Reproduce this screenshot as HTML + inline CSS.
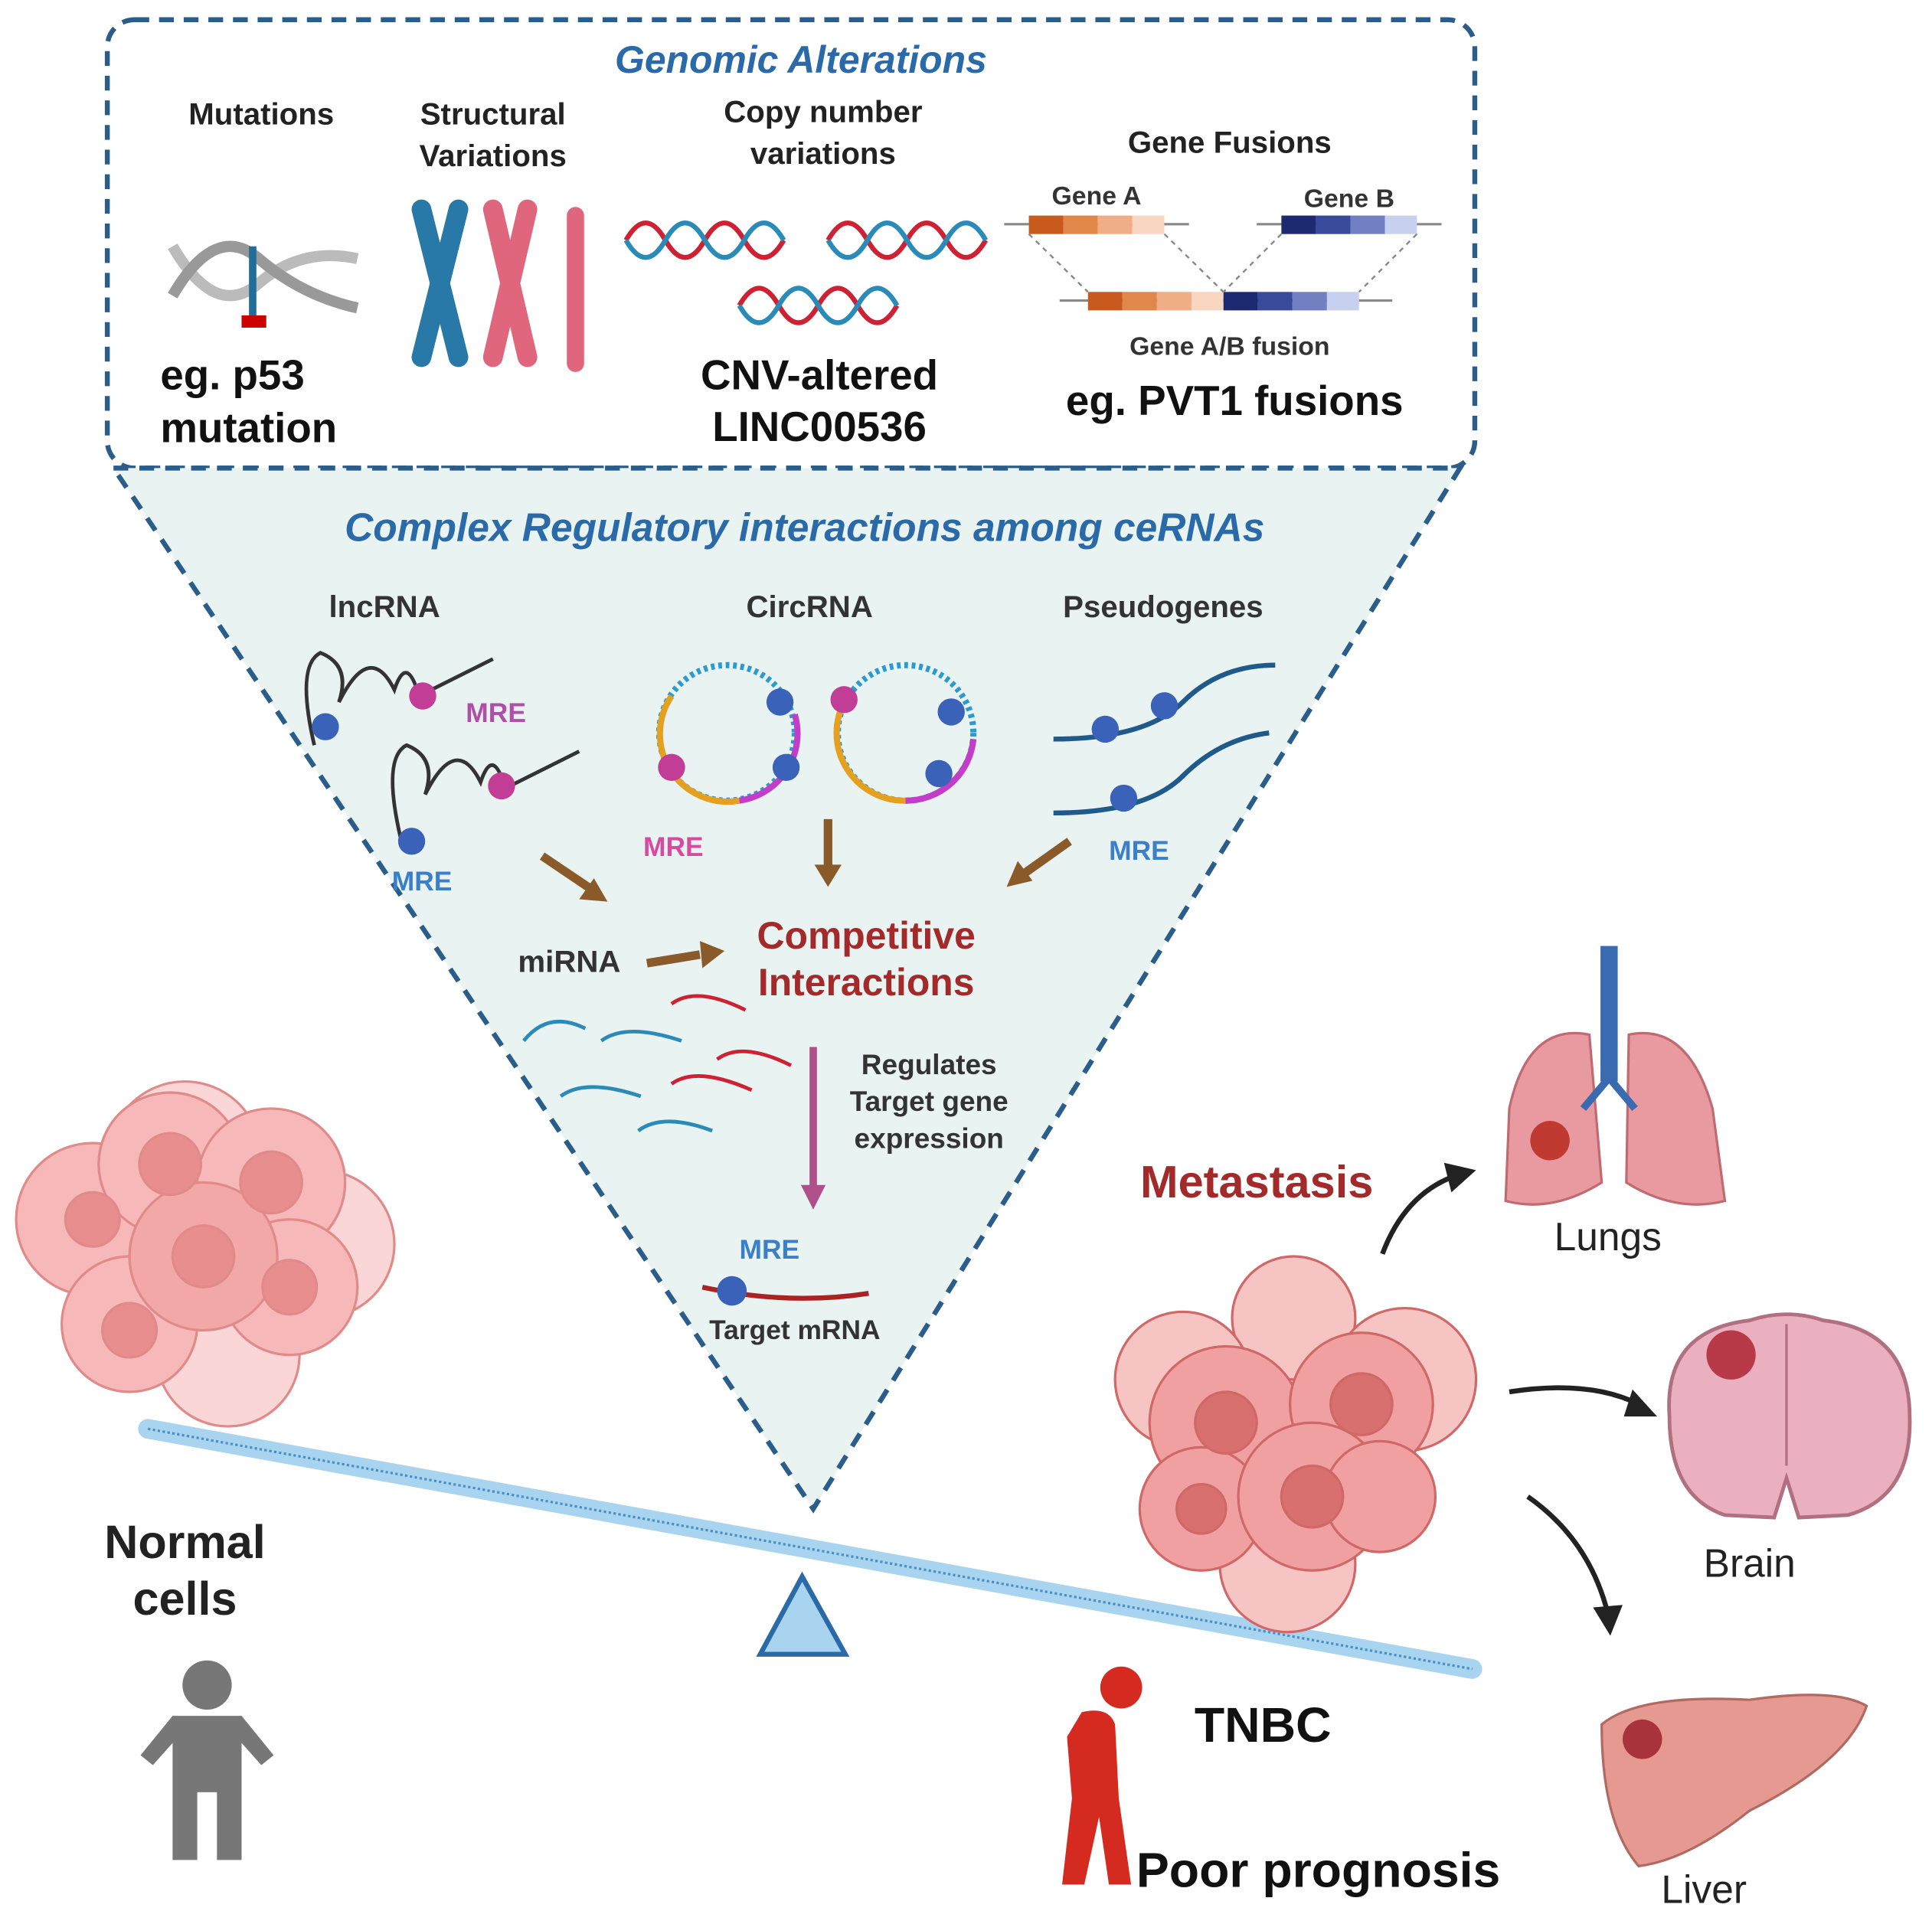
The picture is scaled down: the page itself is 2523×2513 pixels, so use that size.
<!DOCTYPE html>
<html><head><meta charset="utf-8"><style>
html,body{margin:0;padding:0;background:#fff;}
svg{display:block;}
text{font-family:"Liberation Sans",sans-serif;}
</style></head><body>
<svg width="2523" height="2513" viewBox="0 0 1568 1562" xmlns="http://www.w3.org/2000/svg">
<rect x="87" y="16" width="1110" height="364" rx="22" fill="#fff" stroke="#2a5d8a" stroke-width="4" stroke-dasharray="12 8"/>
<path d="M92 380 L1185 380 L660 1225 Z" fill="#e9f3f2" stroke="#2a5d8a" stroke-width="4" stroke-dasharray="12 9"/>
<g font-weight="bold" text-anchor="middle">
<text x="650" y="59" font-size="31" font-style="italic" fill="#2a6aa8">Genomic Alterations</text>
<text x="212" y="101" font-size="25" fill="#222">Mutations</text>
<text x="400" y="101" font-size="25" fill="#222">Structural</text>
<text x="400" y="135" font-size="25" fill="#222">Variations</text>
<text x="668" y="99" font-size="25" fill="#222">Copy number</text>
<text x="668" y="133" font-size="25" fill="#222">variations</text>
<text x="998" y="124" font-size="25" fill="#222">Gene Fusions</text>
<text x="890" y="166" font-size="21" fill="#333">Gene A</text>
<text x="1095" y="168" font-size="21" fill="#333">Gene B</text>
<text x="998" y="288" font-size="21" fill="#333">Gene A/B fusion</text>
<text x="665" y="316" font-size="34" fill="#111">CNV-altered</text>
<text x="665" y="358" font-size="34" fill="#111">LINC00536</text>
<text x="1002" y="337" font-size="34" fill="#111">eg. PVT1 fusions</text>
<text x="653" y="439" font-size="32" font-style="italic" fill="#2a6aa8">Complex Regulatory interactions among ceRNAs</text>
<text x="312" y="501" font-size="25" fill="#333">lncRNA</text>
<text x="657" y="501" font-size="25" fill="#333">CircRNA</text>
<text x="944" y="501" font-size="25" fill="#333">Pseudogenes</text>
<text x="703" y="770" font-size="31" fill="#a32a2a">Competitive</text>
<text x="703" y="808" font-size="31" fill="#a32a2a">Interactions</text>
<text x="462" y="789" font-size="25" fill="#333">miRNA</text>
<text x="754" y="872" font-size="23" fill="#333">Regulates</text>
<text x="754" y="902" font-size="23" fill="#333">Target gene</text>
<text x="754" y="932" font-size="23" fill="#333">expression</text>
<text x="645" y="1087" font-size="22" fill="#333">Target mRNA</text>
<text x="150" y="1265" font-size="38" fill="#222">Normal</text>
<text x="150" y="1311" font-size="38" fill="#222">cells</text>
<text x="1020" y="972" font-size="37" fill="#a32a2a">Metastasis</text>
<text x="1025" y="1414" font-size="40" fill="#111">TNBC</text>
<text x="1070" y="1532" font-size="40" fill="#111">Poor prognosis</text>
</g>
<g font-weight="bold" font-size="22">
<text x="378" y="586" fill="#b04fa8">MRE</text>
<text x="318" y="723" fill="#3a7fc8">MRE</text>
<text x="522" y="695" fill="#d64aa0">MRE</text>
<text x="900" y="698" fill="#3a7fc8">MRE</text>
<text x="600" y="1022" fill="#3a7fc8">MRE</text>
</g>
<g font-weight="bold" font-size="34" fill="#111">
<text x="130" y="316">eg. p53</text>
<text x="130" y="359">mutation</text>
</g>
<g font-size="32" fill="#222" text-anchor="middle">
<text x="1305" y="1015">Lungs</text>
<text x="1420" y="1280">Brain</text>
<text x="1383" y="1545">Liver</text>
</g>
<path d="M140 200 Q175 260 210 230 T290 210" stroke="#bbb" stroke-width="9" fill="none"/>
<path d="M140 240 Q175 180 210 210 T290 250" stroke="#999" stroke-width="9" fill="none"/>
<line x1="205" y1="200" x2="205" y2="262" stroke="#1f6e9a" stroke-width="6"/>
<rect x="196" y="256" width="20" height="10" fill="#c00"/>
<g stroke-linecap="round" fill="none">
<path d="M342 170 L372 290 M372 170 L342 290" stroke="#2878a8" stroke-width="16"/>
<path d="M400 170 L428 290 M428 170 L400 290" stroke="#e0667e" stroke-width="16"/>
<path d="M467 175 L467 295" stroke="#e0667e" stroke-width="14"/>
</g>
<g fill="none" stroke-width="4">
<path d="M508 195 q16 -28 32 0 t32 0 t32 0 t32 0" stroke="#c23"/><path d="M508 195 q16 28 32 0 t32 0 t32 0 t32 0" stroke="#2a8ab8"/>
<path d="M672 195 q16 -28 32 0 t32 0 t32 0 t32 0" stroke="#c23"/><path d="M672 195 q16 28 32 0 t32 0 t32 0 t32 0" stroke="#2a8ab8"/>
<path d="M600 248 q16 -28 32 0 t32 0 t32 0 t32 0" stroke="#c23"/><path d="M600 248 q16 28 32 0 t32 0 t32 0 t32 0" stroke="#2a8ab8"/>
</g>
<line x1="815" y1="182" x2="965" y2="182" stroke="#888" stroke-width="2"/>
<rect x="835" y="175" width="28" height="15" fill="#c85a1e"/><rect x="863" y="175" width="28" height="15" fill="#e0884a"/><rect x="891" y="175" width="28" height="15" fill="#efae85"/><rect x="919" y="175" width="26" height="15" fill="#f8d6c0"/>
<line x1="1020" y1="182" x2="1170" y2="182" stroke="#888" stroke-width="2"/>
<rect x="1040" y="175" width="28" height="15" fill="#1e2a70"/><rect x="1068" y="175" width="28" height="15" fill="#3a4a9a"/><rect x="1096" y="175" width="28" height="15" fill="#7080c0"/><rect x="1124" y="175" width="26" height="15" fill="#c8d0f0"/>
<line x1="860" y1="244" x2="1130" y2="244" stroke="#888" stroke-width="2"/>
<rect x="883" y="237" width="28" height="15" fill="#c85a1e"/><rect x="911" y="237" width="28" height="15" fill="#e0884a"/><rect x="939" y="237" width="28" height="15" fill="#efae85"/><rect x="967" y="237" width="26" height="15" fill="#f8d6c0"/>
<rect x="993" y="237" width="28" height="15" fill="#1e2a70"/><rect x="1021" y="237" width="28" height="15" fill="#3a4a9a"/><rect x="1049" y="237" width="28" height="15" fill="#7080c0"/><rect x="1077" y="237" width="26" height="15" fill="#c8d0f0"/>
<g stroke="#888" stroke-dasharray="4 4" stroke-width="1.5"><line x1="835" y1="190" x2="883" y2="237"/><line x1="945" y1="190" x2="993" y2="237"/><line x1="1040" y1="190" x2="993" y2="237"/><line x1="1150" y1="190" x2="1103" y2="237"/></g>
<g fill="none" stroke="#333" stroke-width="3">
<path d="M255 605 Q240 540 260 530 Q285 540 275 570 Q300 520 320 560 Q330 530 340 565 L400 535"/>
<path d="M325 680 Q310 615 330 605 Q355 615 345 645 Q370 595 390 635 Q400 605 410 640 L470 610"/>
</g>
<circle cx="264" cy="590" r="11" fill="#3a62b8"/><circle cx="343" cy="565" r="11" fill="#c23e96"/>
<circle cx="334" cy="683" r="11" fill="#3a62b8"/><circle cx="407" cy="638" r="11" fill="#c23e96"/>
<circle cx="590" cy="595" r="55" fill="none" stroke="#2a9ad0" stroke-width="5" stroke-dasharray="3 3"/>
<path d="M545 565 A55 55 0 0 0 600 650" stroke="#e6a020" stroke-width="5" fill="none"/>
<path d="M600 650 A55 55 0 0 0 645 580" stroke="#c23ec8" stroke-width="5" fill="none"/>
<circle cx="735" cy="595" r="55" fill="none" stroke="#2a9ad0" stroke-width="5" stroke-dasharray="3 3"/>
<path d="M685 570 A55 55 0 0 0 735 650" stroke="#e6a020" stroke-width="5" fill="none"/>
<path d="M735 650 A55 55 0 0 0 790 600" stroke="#c23ec8" stroke-width="5" fill="none"/>
<circle cx="545" cy="623" r="11" fill="#c23e96"/><circle cx="633" cy="570" r="11" fill="#3a62b8"/><circle cx="638" cy="623" r="11" fill="#3a62b8"/>
<circle cx="685" cy="568" r="11" fill="#c23e96"/><circle cx="772" cy="578" r="11" fill="#3a62b8"/><circle cx="762" cy="628" r="11" fill="#3a62b8"/>
<g fill="none" stroke="#1f5a8a" stroke-width="4">
<path d="M855 600 Q930 600 960 570 Q990 540 1035 540"/>
<path d="M855 660 Q930 660 960 630 Q990 600 1030 595"/>
</g>
<circle cx="897" cy="592" r="11" fill="#3a62b8"/><circle cx="945" cy="573" r="11" fill="#3a62b8"/><circle cx="912" cy="648" r="11" fill="#3a62b8"/>
<g stroke="#8a5a2a" stroke-width="7" fill="#8a5a2a">
<line x1="440" y1="695" x2="480" y2="722"/><polygon points="493,732 470,730 482,713" stroke="none"/>
<line x1="672" y1="665" x2="672" y2="705"/><polygon points="672,720 661,702 683,702" stroke="none"/>
<line x1="868" y1="683" x2="830" y2="710"/><polygon points="817,720 826,699 838,715" stroke="none"/>
<line x1="525" y1="782" x2="568" y2="775"/><polygon points="588,772 568,764 570,786" stroke="none"/>
</g>
<line x1="660" y1="850" x2="660" y2="965" stroke="#b05088" stroke-width="6"/><polygon points="660,982 650,962 670,962" fill="#b05088"/>
<g fill="none" stroke-width="3">
<path d="M425 845 q20 -25 50 -10" stroke="#2a8ab8"/><path d="M488 845 q20 -15 65 0" stroke="#2a8ab8"/>
<path d="M455 890 q20 -15 65 0" stroke="#2a8ab8"/><path d="M518 918 q20 -15 60 0" stroke="#2a8ab8"/>
<path d="M545 815 q20 -15 60 5" stroke="#c23"/><path d="M582 860 q20 -15 60 5" stroke="#c23"/><path d="M545 880 q20 -15 65 5" stroke="#c23"/>
<path d="M570 1045 Q640 1060 705 1050" stroke="#a22" stroke-width="4"/>
</g>
<circle cx="594" cy="1048" r="12" fill="#3a62b8"/>
<line x1="120" y1="1160" x2="1195" y2="1355" stroke="#a9d4f0" stroke-width="16" stroke-linecap="round"/>
<line x1="120" y1="1160" x2="1195" y2="1355" stroke="#4a90c8" stroke-width="2" stroke-dasharray="2 2"/>
<polygon points="651,1280 617,1343 686,1343" fill="#a9d4f0" stroke="#2a6aa8" stroke-width="4"/>
<g stroke="#e08a8a" stroke-width="2">
<circle cx="150" cy="940" r="62" fill="#fbd6d6"/><circle cx="260" cy="1010" r="60" fill="#fbd6d6"/><circle cx="185" cy="1100" r="58" fill="#fbd6d6"/>
<circle cx="75" cy="990" r="62" fill="#f6b8b8"/><circle cx="138" cy="945" r="58" fill="#f6b8b8"/><circle cx="220" cy="960" r="60" fill="#f6b8b8"/>
<circle cx="105" cy="1075" r="55" fill="#f6b8b8"/><circle cx="235" cy="1045" r="55" fill="#f6b8b8"/><circle cx="165" cy="1020" r="60" fill="#f3a8a8"/>
<circle cx="138" cy="945" r="25" fill="#e88e8e"/><circle cx="220" cy="960" r="25" fill="#e88e8e"/><circle cx="165" cy="1020" r="25" fill="#e88e8e"/><circle cx="75" cy="990" r="22" fill="#e88e8e"/><circle cx="105" cy="1080" r="22" fill="#e88e8e"/><circle cx="235" cy="1045" r="22" fill="#e88e8e"/>
</g>
<g fill="#777"><circle cx="168" cy="1368" r="20"/><path d="M140 1393 H196 L222 1425 L212 1433 L196 1415 V1510 H176 V1455 H160 V1510 H140 V1415 L124 1433 L114 1425 Z"/></g>
<g stroke="#d06868" stroke-width="2">
<circle cx="1050" cy="1070" r="50" fill="#f7c4c4"/><circle cx="1140" cy="1120" r="58" fill="#f7c4c4"/><circle cx="960" cy="1120" r="55" fill="#f7c4c4"/><circle cx="1045" cy="1270" r="55" fill="#f7c4c4"/>
<circle cx="995" cy="1155" r="62" fill="#f0a0a0"/><circle cx="1105" cy="1140" r="58" fill="#f0a0a0"/><circle cx="975" cy="1225" r="50" fill="#f0a0a0"/><circle cx="1065" cy="1215" r="60" fill="#f0a0a0"/><circle cx="1120" cy="1215" r="45" fill="#f0a0a0"/>
<circle cx="995" cy="1155" r="25" fill="#d87070"/><circle cx="1105" cy="1140" r="25" fill="#d87070"/><circle cx="1065" cy="1215" r="25" fill="#d87070"/><circle cx="975" cy="1225" r="20" fill="#d87070"/>
</g>
<g fill="none" stroke="#222" stroke-width="4">
<path d="M1122 1018 Q1140 970 1180 955"/><path d="M1225 1130 Q1290 1120 1330 1140"/><path d="M1240 1215 Q1290 1250 1305 1310"/>
</g>
<g fill="#222"><polygon points="1198,950 1172,944 1178,968"/><polygon points="1345,1150 1325,1128 1318,1150"/><polygon points="1307,1328 1293,1305 1317,1303"/></g>
<!-- lungs -->
<path d="M1290 840 Q1240 830 1225 900 L1222 975 Q1260 985 1300 960 Z" fill="#e89aa0" stroke="#c06a72" stroke-width="2"/>
<path d="M1322 840 Q1370 830 1390 900 L1400 975 Q1360 985 1320 960 Z" fill="#e89aa0" stroke="#c06a72" stroke-width="2"/>
<rect x="1299" y="768" width="14" height="110" fill="#3a6ab0"/>
<path d="M1306 875 L1285 900 M1306 875 L1327 900" stroke="#3a6ab0" stroke-width="6" fill="none"/>
<circle cx="1258" cy="926" r="16" fill="#c03a32"/>
<!-- brain -->
<path d="M1355 1150 Q1350 1080 1420 1072 Q1450 1062 1480 1072 Q1550 1080 1550 1150 Q1552 1215 1500 1230 L1460 1232 L1450 1200 L1440 1232 L1400 1230 Q1355 1215 1355 1150 Z" fill="#eab0c0" stroke="#b07080" stroke-width="3"/>
<path d="M1450 1075 V1190" stroke="#b07080" stroke-width="2"/>
<circle cx="1405" cy="1100" r="20" fill="#b83a48"/>
<path d="M1300 1400 Q1330 1375 1420 1380 Q1490 1370 1515 1385 Q1500 1430 1420 1470 Q1370 1510 1330 1515 Q1300 1480 1300 1400 Z" fill="#e59990" stroke="#b06a62" stroke-width="2"/>
<circle cx="1333" cy="1412" r="16" fill="#a8333a"/>
<g fill="#d42a20"><circle cx="910" cy="1370" r="17"/><path d="M878 1390 Q900 1385 905 1400 L908 1460 L918 1530 H900 L892 1475 L880 1530 H862 L870 1460 L866 1410 Z"/></g>
</svg>
</body></html>
